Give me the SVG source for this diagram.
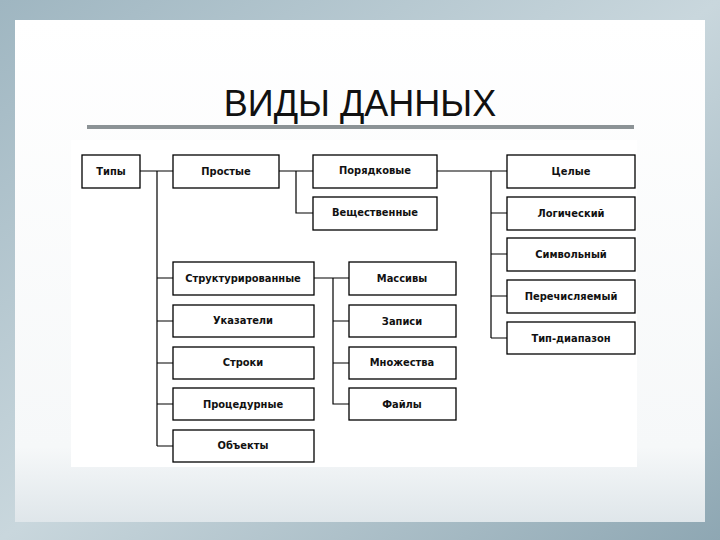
<svg xmlns="http://www.w3.org/2000/svg" width="720" height="540" viewBox="0 0 720 540">
<defs>
<linearGradient id="bg" x1="0" y1="0" x2="1" y2="1">
<stop offset="0" stop-color="#9fb6c1"/><stop offset="0.5" stop-color="#c9d7dd"/><stop offset="1" stop-color="#8ea7b3"/>
</linearGradient>
<linearGradient id="panel" x1="0" y1="0" x2="0" y2="1">
<stop offset="0" stop-color="#ffffff"/><stop offset="0.85" stop-color="#f6f8f9"/><stop offset="1" stop-color="#dfe6ea"/>
</linearGradient>
<style>
.b{fill:#fff;stroke:#000;stroke-width:1.3}
.t{font-family:"DejaVu Sans Condensed","Liberation Sans",sans-serif;font-weight:bold;font-size:11px;text-anchor:middle;fill:#111}
.c{stroke:#000;stroke-width:1.2;fill:none}
</style>
</defs>
<rect width="720" height="540" fill="url(#bg)"/>
<rect x="15" y="20" width="690" height="502" fill="url(#panel)"/>
<text x="360" y="116" font-family="Liberation Sans, sans-serif" font-size="36" text-anchor="middle" fill="#111">ВИДЫ ДАННЫХ</text>
<rect x="87" y="125" width="547" height="4" fill="#8c9396"/>
<rect x="71" y="140" width="566" height="327" fill="#fff"/>
<g id="connectors" class="c">
<path d="M140 171H173M157 171V446M157 278H173M157 321H173M157 363H173M157 404H173M157 446H173"/>
<path d="M279 171H313M296 171V213H313"/>
<path d="M437 171H507M491 171V338M491 213H507M491 254H507M491 296H507M491 338H507"/>
<path d="M314 278H349M333 278V404H349M333 321H349M333 363H349"/>
</g>
<g id="n-tipy"><rect class="b" x="82" y="155" width="58" height="33"/><text class="t" x="111" y="175" font-size="13">Типы</text></g>
<g id="n-prostye"><rect class="b" x="173" y="155" width="106" height="33"/><text class="t" x="226" y="175">Простые</text></g>
<g id="n-poryad"><rect class="b" x="313" y="155" width="124" height="33"/><text class="t" x="375" y="174">Порядковые</text></g>
<g id="n-vesch"><rect class="b" x="313" y="197" width="124" height="33"/><text class="t" x="375" y="216">Вещественные</text></g>
<g id="n-celye"><rect class="b" x="507" y="155" width="128" height="33"/><text class="t" x="571" y="175">Целые</text></g>
<g id="n-logich"><rect class="b" x="507" y="197" width="128" height="33"/><text class="t" x="571" y="217">Логический</text></g>
<g id="n-simv"><rect class="b" x="507" y="238" width="128" height="33"/><text class="t" x="571" y="258">Символьный</text></g>
<g id="n-perech"><rect class="b" x="507" y="280" width="128" height="33"/><text class="t" x="571" y="300">Перечисляемый</text></g>
<g id="n-diap"><rect class="b" x="507" y="322" width="128" height="32"/><text class="t" x="571" y="342">Тип-диапазон</text></g>
<g id="n-struct"><rect class="b" x="173" y="262" width="141" height="33"/><text class="t" x="243" y="282">Структурированные</text></g>
<g id="n-ukaz"><rect class="b" x="173" y="305" width="141" height="32"/><text class="t" x="243" y="324">Указатели</text></g>
<g id="n-stroki"><rect class="b" x="173" y="347" width="141" height="32"/><text class="t" x="243" y="366">Строки</text></g>
<g id="n-proc"><rect class="b" x="173" y="388" width="141" height="32"/><text class="t" x="243" y="408">Процедурные</text></g>
<g id="n-obj"><rect class="b" x="173" y="430" width="141" height="32"/><text class="t" x="243" y="449">Объекты</text></g>
<g id="n-massiv"><rect class="b" x="349" y="262" width="107" height="33"/><text class="t" x="402" y="282">Массивы</text></g>
<g id="n-zapisi"><rect class="b" x="349" y="305" width="107" height="32"/><text class="t" x="402" y="325">Записи</text></g>
<g id="n-mnozh"><rect class="b" x="349" y="347" width="107" height="32"/><text class="t" x="402" y="366">Множества</text></g>
<g id="n-faily"><rect class="b" x="349" y="388" width="107" height="32"/><text class="t" x="402" y="408">Файлы</text></g>
</svg>
